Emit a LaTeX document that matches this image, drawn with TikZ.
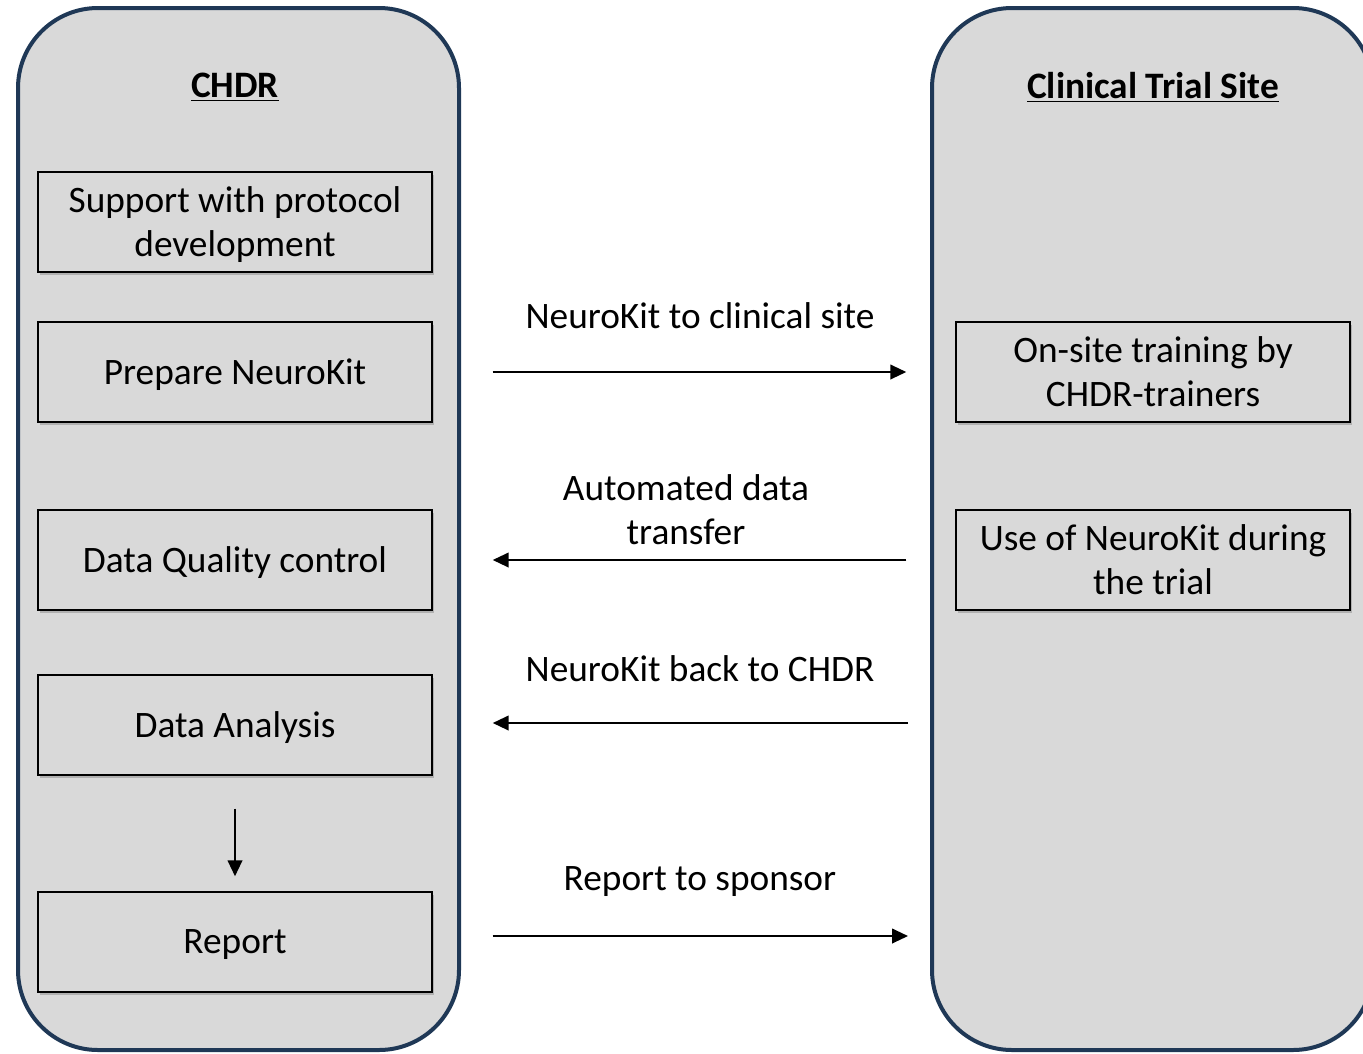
\documentclass[tikz,border=0pt]{standalone}
\usepackage{fontspec}
\setmainfont{Carlito}
\usetikzlibrary{arrows.meta,shadows}
\definecolor{panelgray}{RGB}{217,217,217}
\definecolor{panelblue}{RGB}{31,56,86}

\begin{document}
\begin{tikzpicture}[x=0.75pt,y=-0.75pt,>={Triangle[length=12pt,width=11pt]},line width=1.5pt,
  panel/.style={draw=panelblue,fill=panelgray,line width=3pt,rounded corners=60pt},
  task node/.style={draw=black,fill=panelgray,line width=1.1pt,minimum width=295.5pt,minimum height=75pt,
    align=center,text depth=0pt,font=\fontsize{28}{33}\selectfont,
    drop shadow={shadow xshift=1.5pt,shadow yshift=-2pt,opacity=0.45}},
  head node/.style={font=\fontsize{28}{32}\selectfont\bfseries},
  link label/.style={align=center,font=\fontsize{28}{33}\selectfont}]

 \useasboundingbox (0,0) rectangle (1363,1053);
 \draw[panel] (18,8) rectangle (459,1050);
 \draw[panel] (932,8) rectangle (1373,1050);

 \node[head node] (chdr) at (235,87) {\underline{CHDR}};
 \node[head node] (site) at (1153,87) {\underline{Clinical Trial Site}};

 \node[task node] (protocol) at (235,222) {Support with protocol\\development};
 \node[task node] (prepare) at (235,372) {Prepare NeuroKit};
 \node[task node] (quality) at (235,560) {Data Quality control};
 \node[task node] (analysis) at (235,725) {Data Analysis};
 \node[task node] (report) at (235,942) {Report};
 \node[task node] (training) at (1153,372) {On-site training by\\CHDR-trainers};
 \node[task node] (use) at (1153,560) {Use of NeuroKit during\\the trial};

 \coordinate (back start) at (908,723);
 \coordinate (sponsor) at (908,936);

 \node[link label] (to site) at (700,316) {NeuroKit to clinical site};
 \node[link label] (transfer) at (686,510) {Automated data\\transfer};
 \node[link label] (to chdr) at (700,669) {NeuroKit back to CHDR};
 \node[link label] (to sponsor) at (700,882) {Report to sponsor};

 \draw[->,shorten <=45pt,shorten >=36.75pt] (prepare.east) -- (training.west);
 \draw[->,shorten <=36.75pt,shorten >=45pt] (use.west) -- (quality.east);
 \draw[->,shorten >=45pt] (back start) -- (analysis.east |- back start);
 \draw[->,shorten <=45pt] (report.east |- sponsor) -- (sponsor);
 \draw[->,shorten <=24.75pt,shorten >=11.25pt] (analysis.south) -- (report.north);

\end{tikzpicture}
\end{document}
